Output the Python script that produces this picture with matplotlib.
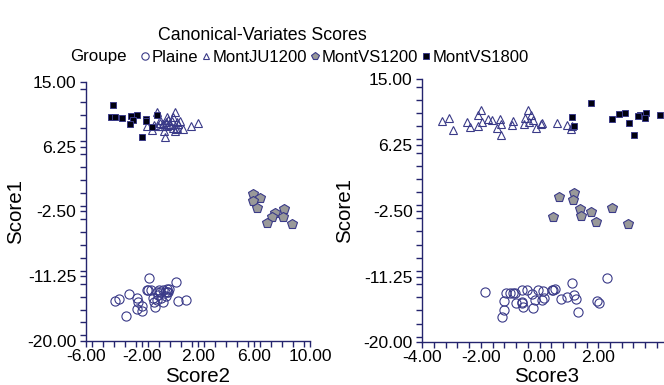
import matplotlib
matplotlib.use("Agg")
import matplotlib.pyplot as plt
from matplotlib.ticker import FixedLocator, FormatStrFormatter, MultipleLocator
from matplotlib.lines import Line2D

plt.rcParams['font.family'] = ['Liberation Sans', 'DejaVu Sans']

# ---------------- data ----------------
groups = ["Plaine", "MontJU1200", "MontVS1200", "MontVS1800"]

plaine_s1 = [-11.44, -12.09, -12.94, -13.03, -13.05, -13.10, -13.10, -13.10, -13.16, -13.32,
             -13.39, -13.39, -13.45, -13.45, -13.59, -13.74, -13.92, -14.17, -14.24, -14.24,
             -14.35, -14.42, -14.46, -14.57, -14.62, -14.73, -14.78, -14.80, -15.31, -15.40,
             -15.70, -16.01, -16.57]
plaine_s2 = [-1.48, 0.40, -0.05, -0.24, -1.67, -1.38, -0.48, -0.76, -1.55, -0.71,
             -0.36, -0.24, -0.95, -0.12, -2.90, -0.83, -0.31, -0.64, -2.38, -1.19,
             -3.62, 1.14, -0.95, -3.93, 0.60, -2.26, -1.14, -0.52, -2.02, -1.07,
             -2.33, -2.02, -3.14]
plaine_s3 = [2.31, 1.11, 0.52, -0.61, -0.44, -0.05, 0.41, 0.44, 0.13, -1.86,
             -1.13, -1.01, -0.90, -0.85, -0.27, 1.16, 0.93, 0.16, 0.73, 1.23,
             -0.17, 0.07, 1.94, -1.20, -0.61, -0.59, -0.81, 2.03, -0.58, -0.24,
             -1.22, 1.32, -1.27]

ju_s1 = [10.92, 10.92, 10.30, 10.25, 9.85, 9.85, 9.70, 9.70, 9.57, 9.57,
         9.47, 9.45, 9.35, 9.35, 9.30, 9.20, 9.17, 9.06, 9.02, 9.02,
         8.97, 8.97, 8.80, 8.80, 8.68, 8.57, 8.50, 8.40, 8.30, 7.60]
ju_s2 = [-0.95, 0.36, -0.24, 0.24, -0.12, -0.71, 0.71, 0.12, -0.31, 0.48,
         2.02, -0.71, -0.48, -0.05, 0.60, -1.14, 0.00, 1.48, -1.67, -0.60,
         -0.83, -0.24, 0.24, 0.48, 0.95, 0.43, -1.31, 0.36, -0.43, -0.36]
ju_s3 = [-2.01, -0.38, -2.09, -0.30, -3.08, -0.50, -1.75, -1.35, -1.61, -0.24,
         -3.32, -0.92, -2.49, -1.97, -0.35, 0.08, 0.58, -1.30, -0.52, 0.05,
         -0.94, 0.94, -2.09, 1.09, -2.38, -0.14, -1.47, 1.06, -2.94, -1.33]

vs12_s1 = [-0.15, -0.64, -1.11, -2.08, -2.23, -2.68, -3.22, -3.30, -4.02, -4.27]
vs12_s2 = [5.95, 6.43, 5.90, 6.19, 8.14, 7.50, 7.26, 8.10, 6.90, 8.74]
vs12_s3 = [1.16, 0.66, 1.15, 2.47, 1.36, 1.76, 1.42, 0.45, 1.92, 3.02]

vs18_s1 = [11.90, 10.50, 10.45, 10.32, 10.27, 10.23, 10.14, 10.00, 9.82, 9.73, 9.23, 8.83, 7.57]
vs18_s2 = [-4.05, -0.95, -2.33, -2.79, -4.21, -3.93, -3.45, -1.69, -2.67, -1.74, -2.86, -1.31, -2.02]
vs18_s3 = [1.74, 2.92, 3.63, 2.69, 4.11, 3.42, 3.35, 1.11, 3.60, 2.47, 3.06, 1.18, 3.22]

title = "Canonical-Variates Scores"
legend_title = "Groupe"
y_ticks = [15.0, 6.25, -2.5, -11.25, -20.0]
x1_ticks = [-6.0, -2.0, 2.0, 6.0, 10.0]
x2_ticks = [-4.0, -2.0, 0.0, 2.0]

# ---------------- style ----------------
NAVY = '#24246e'
styles = {
    "Plaine":     dict(marker='o', ms=6.6, mfc='none', mec='#3a3a88', mew=0.8),
    "MontJU1200": dict(marker='^', ms=6.2, mfc='none', mec='#3a3a88', mew=0.8),
    "MontVS1200": dict(marker='p', ms=7.2, mfc='#999999', mec='#3a3a88', mew=0.8),
    "MontVS1800": dict(marker='s', ms=4.8, mfc='#000010', mec='#3a3a88', mew=0.7),
}

data = {
    "Plaine": (plaine_s1, plaine_s2, plaine_s3),
    "MontJU1200": (ju_s1, ju_s2, ju_s3),
    "MontVS1200": (vs12_s1, vs12_s2, vs12_s3),
    "MontVS1800": (vs18_s1, vs18_s2, vs18_s3),
}

W, H = 664, 385
fig = plt.figure(figsize=(W / 100, H / 100), dpi=100)

def px_axes(x0, y0, x1, y1):
    return fig.add_axes([x0 / W, 1 - y1 / H, (x1 - x0) / W, (y1 - y0) / H])

ax1 = px_axes(86, 81.7, 310, 341)
ax2 = px_axes(422.3, 79.3, 671.6, 342.3)

FS_TICK = 12.6
FS_LABEL = 14.8

for ax, xi, xlim, xt, xminor, xlabel in [
        (ax1, 1, (-6, 10), x1_ticks, 0.8, "Score2"),
        (ax2, 2, (-4, 4.5), x2_ticks, 0.4, "Score3")]:
    for g in groups:
        s = data[g]
        ax.plot(s[xi], s[0], ls='none', **styles[g], clip_on=False)
    ax.set_xlim(*xlim)
    ax.set_ylim(-20, 15)
    for sp in ['top', 'right']:
        ax.spines[sp].set_visible(False)
    for sp in ['left', 'bottom']:
        ax.spines[sp].set_color(NAVY)
        ax.spines[sp].set_linewidth(1.0)
    ax.xaxis.set_major_locator(FixedLocator(xt))
    ax.xaxis.set_minor_locator(MultipleLocator(xminor))
    ax.yaxis.set_major_locator(FixedLocator(y_ticks))
    ax.yaxis.set_minor_locator(MultipleLocator(1.75))
    ax.xaxis.set_major_formatter(FormatStrFormatter('%.2f'))
    ax.yaxis.set_major_formatter(FormatStrFormatter('%.2f'))
    ax.tick_params(which='both', direction='out', color=NAVY, length=4, width=1.0,
                   labelsize=FS_TICK, labelcolor='black')
    ax.tick_params(axis='y', which='both', pad=3)
    ax.tick_params(axis='x', which='both', pad=1.5)
    ax.set_xlabel(xlabel, fontsize=FS_LABEL)
    ax.set_ylabel("Score1", fontsize=FS_LABEL)

ax1.xaxis.set_label_coords(0.5, -(367 - 341) / 259.3)
ax2.xaxis.set_label_coords((547 - 422.3) / 249.3, -(367 - 342.3) / 263)
ax1.yaxis.set_label_coords((25 - 86) / 224, 0.5)
ax2.yaxis.set_label_coords((354 - 422.3) / 249.3, 0.5)

fig.text(262 / W, 1 - 35 / H, title, ha='center', va='center', fontsize=12.8)
fig.text(70 / W, 1 - 57 / H, legend_title, ha='left', va='center', fontsize=12.2)

handles = [Line2D([], [], ls='none', **{**styles[g], 'ms': styles[g]['ms'] * 0.8}) for g in groups]
fig.legend(handles, groups, loc='center left', bbox_to_anchor=(141 / W, 1 - 57 / H),
           ncol=4, frameon=False, fontsize=12.0, handlelength=0.45, handletextpad=0.18,
           columnspacing=0.25, borderpad=0, borderaxespad=0)

fig.savefig("out.png", dpi=100)
